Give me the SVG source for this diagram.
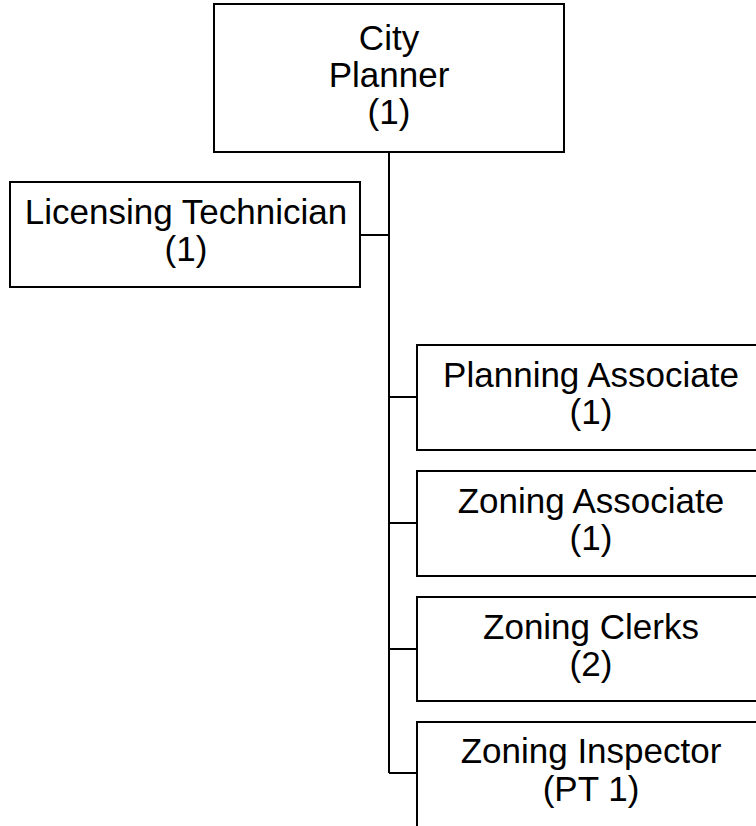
<svg xmlns="http://www.w3.org/2000/svg" width="756" height="826" viewBox="0 0 756 826">
  <style>
    .box { fill: #ffffff; stroke: #000000; stroke-width: 2; }
    .lbl { font-family: "Liberation Sans", Arial, sans-serif; font-size: 35px; fill: #000000; text-anchor: middle; }
    .wire { fill: none; stroke: #000000; stroke-width: 2; }
  </style>
  <rect width="756" height="826" fill="#ffffff"/>

  <!-- reporting lines -->
  <g id="connectors">
    <path class="wire" d="M389 152 V773"/>
    <path class="wire" d="M360 235 H389"/>
    <path class="wire" d="M389 397 H417"/>
    <path class="wire" d="M389 523 H417"/>
    <path class="wire" d="M389 649 H417"/>
    <path class="wire" d="M389 773 H417"/>
  </g>

  <g id="city-planner">
    <rect class="box" x="214" y="4" width="350" height="148"/>
    <text class="lbl" x="389" y="50">City</text>
    <text class="lbl" x="389" y="87">Planner</text>
    <text class="lbl" x="389" y="124">(1)</text>
  </g>

  <g id="licensing-technician">
    <rect class="box" x="10" y="182" width="350" height="105"/>
    <text class="lbl" x="186" y="224">Licensing Technician</text>
    <text class="lbl" x="186" y="261">(1)</text>
  </g>

  <g id="planning-associate">
    <rect class="box" x="417" y="345" width="350" height="105"/>
    <text class="lbl" x="591" y="387">Planning Associate</text>
    <text class="lbl" x="591" y="424">(1)</text>
  </g>

  <g id="zoning-associate">
    <rect class="box" x="417" y="471" width="350" height="105"/>
    <text class="lbl" x="591" y="513">Zoning Associate</text>
    <text class="lbl" x="591" y="550">(1)</text>
  </g>

  <g id="zoning-clerks">
    <rect class="box" x="417" y="597" width="350" height="104"/>
    <text class="lbl" x="591" y="639">Zoning Clerks</text>
    <text class="lbl" x="591" y="676">(2)</text>
  </g>

  <g id="zoning-inspector">
    <rect class="box" x="417" y="722" width="350" height="105"/>
    <text class="lbl" x="591" y="763">Zoning Inspector</text>
    <text class="lbl" x="591" y="801">(PT 1)</text>
  </g>
</svg>
